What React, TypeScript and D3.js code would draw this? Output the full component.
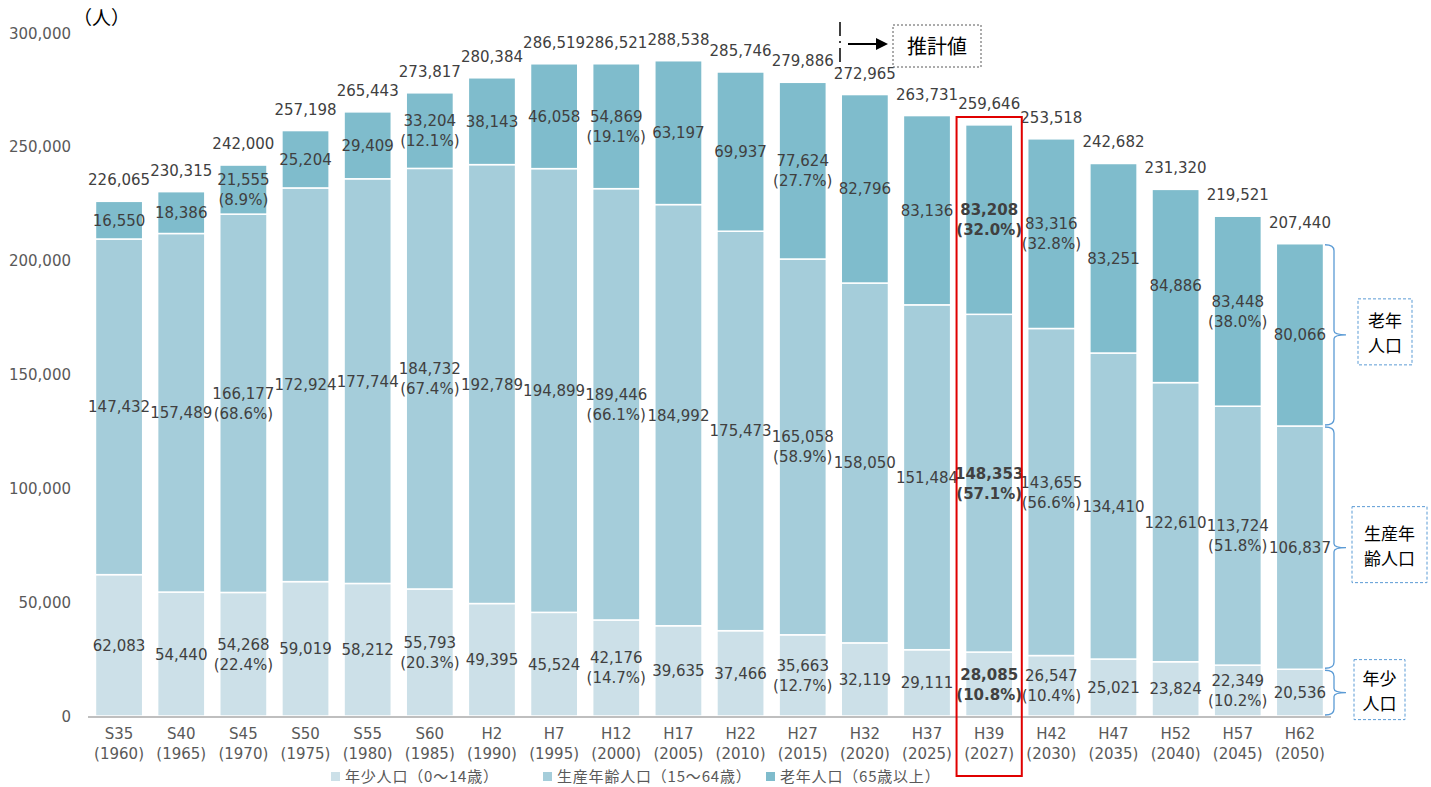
import React, { useEffect } from 'react';
import * as d3 from 'd3';

// categories (era + year)
const eras = ['S35', 'S40', 'S45', 'S50', 'S55', 'S60', 'H2', 'H7', 'H12', 'H17', 'H22', 'H27', 'H32', 'H37', 'H39', 'H42', 'H47', 'H52', 'H57', 'H62'];
const years = ['1960', '1965', '1970', '1975', '1980', '1985', '1990', '1995', '2000', '2005', '2010', '2015', '2020', '2025', '2027', '2030', '2035', '2040', '2045', '2050'];

// population by age group
const young = [62083, 54440, 54268, 59019, 58212, 55793, 49395, 45524, 42176, 39635, 37466, 35663, 32119, 29111, 28085, 26547, 25021, 23824, 22349, 20536];
const working = [147432, 157489, 166177, 172924, 177744, 184732, 192789, 194899, 189446, 184992, 175473, 165058, 158050, 151484, 148353, 143655, 134410, 122610, 113724, 106837];
const elderly = [16550, 18386, 21555, 25204, 29409, 33204, 38143, 46058, 54869, 63197, 69937, 77624, 82796, 83136, 83208, 83316, 83251, 84886, 83448, 80066];
const totals = [226065, 230315, 242000, 257198, 265443, 273817, 280384, 286519, 286521, 288538, 285746, 279886, 272965, 263731, 259646, 253518, 242682, 231320, 219521, 207440];

// shares shown on some bars (null = not shown)
const youngPct = [null, null, '22.4%', null, null, '20.3%', null, null, '14.7%', null, null, '12.7%', null, null, '10.8%', '10.4%', null, null, '10.2%', null];
const workingPct = [null, null, '68.6%', null, null, '67.4%', null, null, '66.1%', null, null, '58.9%', null, null, '57.1%', '56.6%', null, null, '51.8%', null];
const elderlyPct = [null, null, '8.9%', null, null, '12.1%', null, null, '19.1%', null, null, '27.7%', null, null, '32.0%', '32.8%', null, null, '38.0%', null];

const yTicks = [0, 50000, 100000, 150000, 200000, 250000, 300000];
const seriesNames = ['年少人口（0〜14歳）', '生産年齢人口（15〜64歳）', '老年人口（65歳以上）'];
const colors = ['#CCE0E8', '#A5CDDA', '#7FBCCC'];
const highlight = 'H39';

const W = 1431, H = 787;
const FONT = '"DejaVu Sans", Verdana, "Noto Sans CJK JP", sans-serif';
const JP = '"Noto Sans CJK JP", "DejaVu Sans", sans-serif';

const fmt = d3.format(',');

export default function App() {
  useEffect(() => {
    document.body.style.margin = '0';
  }, []);

  const x = d3.scaleBand<string>().domain(eras).range([88, 1331]).paddingInner(0.24).paddingOuter(0.12);
  const y = d3.scaleLinear().domain([0, 300000]).range([716, 33]);

  const rows = eras.map((e, i) => ({ era: e, young: young[i], working: working[i], elderly: elderly[i] }));
  const stack = d3.stack<any>().keys(['young', 'working', 'elderly'])(rows);
  const pcts = [youngPct, workingPct, elderlyPct];
  const values = [young, working, elderly];

  const label = (cx: number, cy: number, val: number, pct: string | null, bold: boolean, key: string) => {
    const fw = bold ? 'bold' : 'normal';
    if (pct) {
      return (
        <text key={key} x={cx} textAnchor="middle" fontSize={15} fill="#404040" fontWeight={fw} fontFamily={FONT}>
          <tspan x={cx} y={cy - 4.5}>{fmt(val)}</tspan>
          <tspan x={cx} y={cy + 15.5}>({pct})</tspan>
        </text>
      );
    }
    return (
      <text key={key} x={cx} y={cy + 5.5} textAnchor="middle" fontSize={15} fill="#404040" fontWeight={fw} fontFamily={FONT}>
        {fmt(val)}
      </text>
    );
  };

  const bw = x.bandwidth();
  const lastIdx = eras.length - 1;
  const bx0 = 1325, bx1 = 1334, bx2 = 1346;
  const brace = (y0: number, y1: number) => {
    const m = (y0 + y1) / 2;
    return `M${bx0},${y0} Q${bx1},${y0} ${bx1},${y0 + 6} L${bx1},${m - 4} Q${bx1},${m} ${bx2},${m} Q${bx1},${m} ${bx1},${m + 4} L${bx1},${y1 - 6} Q${bx1},${y1} ${bx0},${y1}`;
  };
  const sideBoxes = [
    { lines: ['年少', '人口'], w: 51, h: 60, dx: 1354 },
    { lines: ['生産年', '齢人口'], w: 75, h: 76, dx: 1352 },
    { lines: ['老年', '人口'], w: 54, h: 66, dx: 1358 },
  ];

  const hx = x(highlight)!;

  return (
    <svg width={W} height={H} style={{ display: 'block' }}>
      <rect width={W} height={H} fill="#fff" />

      {/* bars */}
      {stack.map((s, si) => (
        <g key={si}>
          {s.map((d, i) => (
            <rect key={i} x={x(eras[i])} y={y(d[1])} width={bw} height={y(d[0]) - y(d[1])}
              fill={colors[si]} stroke="#fff" strokeWidth={1.5} />
          ))}
        </g>
      ))}

      {/* axis line */}
      <line x1={88} x2={1331} y1={y(0) + 1} y2={y(0) + 1} stroke="#BFBFBF" strokeWidth={2} />

      {/* y ticks */}
      {yTicks.map(t => (
        <text key={t} x={71} y={y(t) + 5.5} textAnchor="end" fontSize={15} fill="#595959" fontFamily={FONT}>{fmt(t)}</text>
      ))}
      <text x={73} y={25} fontSize={19} fill="#000" fontFamily={JP}>（人）</text>

      {/* x labels */}
      {eras.map((e, i) => (
        <text key={e} textAnchor="middle" fontSize={15} fill="#595959" fontFamily={FONT}>
          <tspan x={x(e)! + bw / 2} y={739}>{e}</tspan>
          <tspan x={x(e)! + bw / 2} y={759}>({years[i]})</tspan>
        </text>
      ))}

      {/* segment labels */}
      {stack.map((s, si) => s.map((d, i) =>
        label(x(eras[i])! + bw / 2, (y(d[0]) + y(d[1])) / 2, values[si][i], pcts[si][i], eras[i] === highlight, `l${si}-${i}`)
      ))}

      {/* totals */}
      {totals.map((t, i) => (
        <text key={i} x={x(eras[i])! + bw / 2} y={y(stack[2][i][1]) - 16} textAnchor="middle" fontSize={15} fill="#404040" fontFamily={FONT}>{fmt(t)}</text>
      ))}

      {/* highlight frame */}
      <rect x={hx - 9} y={117} width={bw + 18} height={659} fill="none" stroke="#E00000" strokeWidth={2} />

      {/* estimate marker */}
      <line x1={840} x2={840} y1={22} y2={68} stroke="#000" strokeWidth={1.5} strokeDasharray="14 5 2 5" />
      <line x1={848} x2={878} y1={44} y2={44} stroke="#000" strokeWidth={2} />
      <path d="M876,38 L888,44 L876,50 Z" fill="#000" />
      <rect x={893} y={25} width={88} height={42} fill="none" stroke="#595959" strokeWidth={1} strokeDasharray="2 2" />
      <text x={937} y={54} textAnchor="middle" fontSize={20} fill="#000" fontFamily={JP}>推計値</text>

      {/* braces for last bar */}
      {stack.map((s, si) => {
        const d = s[lastIdx];
        const y0 = y(d[1]) + 1, y1 = y(d[0]) - 1;
        const m = (y0 + y1) / 2;
        const b = sideBoxes[si];
        const top = m - b.h / 2 - 3;
        return (
          <g key={`b${si}`}>
            <path d={brace(y0, y1)} fill="none" stroke="#5B9BD5" strokeWidth={1.3} />
            <rect x={b.dx} y={top} width={b.w} height={b.h} fill="#fff" stroke="#5B9BD5" strokeWidth={1} strokeDasharray="3 2" />
            {b.lines.map((ln, k) => (
              <text key={k} x={b.dx + b.w / 2} y={top + b.h / 2 - 5 + k * 25} textAnchor="middle" fontSize={17} fill="#000" fontFamily={JP}>{ln}</text>
            ))}
          </g>
        );
      })}

      {/* legend */}
      {seriesNames.map((n, i) => {
        const lx = [331, 543, 766][i];
        return (
          <g key={n}>
            <rect x={lx} y={772} width={9} height={9} fill={colors[i]} />
            <text x={lx + 14} y={782} fontSize={15} letterSpacing={0.8} fill="#595959" fontFamily={JP}>{n}</text>
          </g>
        );
      })}
    </svg>
  );
}
